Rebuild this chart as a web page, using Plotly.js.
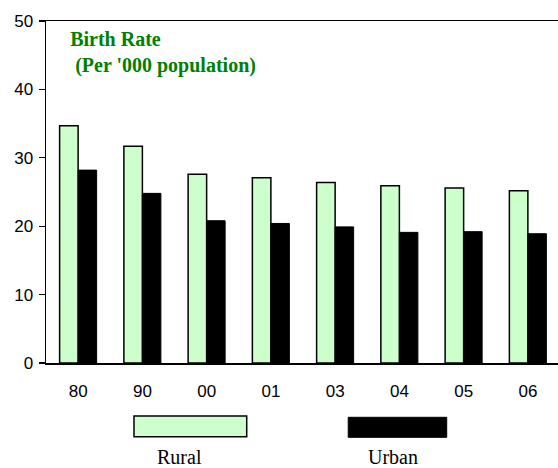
<!DOCTYPE html>
<html>
<head>
<meta charset="utf-8">
<script src="https://cdn.plot.ly/plotly-3.0.1.min.js"></script>
<style>
html, body { margin: 0; padding: 0; overflow: hidden; background: #fff; }
#chart { width: 560px; height: 468px; }
</style>
</head>
<body>
<div id="chart"></div>
<script>
var years = ['80', '90', '00', '01', '03', '04', '05', '06'];
var rural = [34.7, 31.7, 27.6, 27.1, 26.4, 25.9, 25.6, 25.2];
var urban = [28.2, 24.8, 20.8, 20.4, 19.9, 19.1, 19.2, 18.9];
var seriesNames = ['Rural', 'Urban'];
var yTicks = [0, 10, 20, 30, 40, 50];

var traces = [
  {
    type: 'bar', name: seriesNames[0], x: years, y: rural,
    marker: { color: '#ccffcc', line: { color: '#000000', width: 1.5 } },
    hoverinfo: 'x+y'
  },
  {
    type: 'bar', name: seriesNames[1], x: years, y: urban,
    marker: { color: '#000000', line: { color: '#000000', width: 1 } },
    hoverinfo: 'x+y'
  }
];

var layout = {
  width: 560, height: 468,
  margin: { l: 46, r: 0, t: 21, b: 105, pad: 0 },
  paper_bgcolor: '#ffffff', plot_bgcolor: '#ffffff',
  showlegend: false,
  barmode: 'group', bargap: 0.424, bargroupgap: 0,
  font: { family: 'Liberation Sans, Arial, sans-serif', size: 17, color: '#000' },
  title: {
    text: 'Birth Rate<br>&nbsp;(Per \'000 population)',
    font: { family: 'Liberation Serif, Times New Roman, serif', size: 20, color: '#008000', weight: 'bold' },
    xref: 'paper', yref: 'container', x: 0.047, xanchor: 'left',
    y: 1 - 46 / 468, yanchor: 'top', pad: { t: 0, b: 0, l: 0, r: 0 }
  },
  xaxis: {
    type: 'category', range: [-0.5, 7.5],
    showline: true, linecolor: '#000', linewidth: 1.5, mirror: true,
    ticks: '', showgrid: false, zeroline: false,
    ticklabelstandoff: 12,
    tickfont: { family: 'Liberation Sans, Arial, sans-serif', size: 17, color: '#000' },
    fixedrange: true
  },
  yaxis: {
    range: [0, 50], tickvals: yTicks, ticktext: yTicks.map(String),
    showline: true, linecolor: '#000', linewidth: 1.5,
    ticks: 'outside', ticklen: 6, tickwidth: 1.2, tickcolor: '#000',
    showgrid: false, zeroline: false,
    ticklabelstandoff: 2,
    tickfont: { family: 'Liberation Sans, Arial, sans-serif', size: 17, color: '#000' },
    fixedrange: true
  },
  shapes: [
    { type: 'rect', xref: 'paper', yref: 'paper', x0: 0.1712, x1: 0.3905, y0: -0.155, y1: -0.2155,
      fillcolor: '#ccffcc', line: { color: '#000', width: 1.5 } },
    { type: 'rect', xref: 'paper', yref: 'paper', x0: 0.588, x1: 0.7796, y0: -0.1588, y1: -0.2173,
      fillcolor: '#000000', line: { color: '#000', width: 1 } }
  ],
  annotations: [
    { xref: 'paper', yref: 'paper', x: 0.2607, y: -0.238, xanchor: 'center', yanchor: 'top',
      text: seriesNames[0], showarrow: false,
      font: { family: 'Liberation Serif, Times New Roman, serif', size: 20, color: '#000' } },
    { xref: 'paper', yref: 'paper', x: 0.675, y: -0.238, xanchor: 'center', yanchor: 'top',
      text: seriesNames[1], showarrow: false,
      font: { family: 'Liberation Serif, Times New Roman, serif', size: 20, color: '#000' } }
  ]
};

Plotly.newPlot('chart', traces, layout, { displayModeBar: false, staticPlot: true });
</script>
</body>
</html>
